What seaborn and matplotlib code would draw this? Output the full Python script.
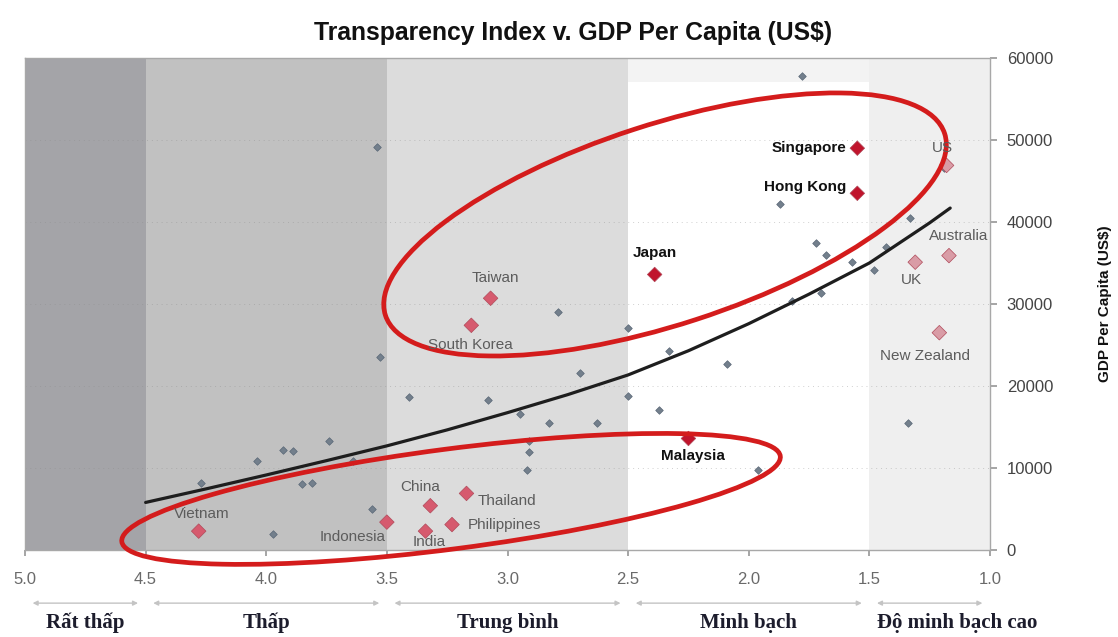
import numpy as np
import pandas as pd
import matplotlib
matplotlib.use("Agg")
import matplotlib.pyplot as plt
from matplotlib.patches import Ellipse
from matplotlib.transforms import IdentityTransform
import seaborn as sns

# ---- data -------------------------------------------------------------
# Highlighted economies: transparency index (5 = very low, 1 = very high) and GDP per capita (US$)
hl_names = ["Singapore", "Hong Kong", "Japan", "Malaysia", "Taiwan", "South Korea",
            "China", "Thailand", "Philippines", "India", "Indonesia", "Vietnam",
            "US", "UK", "Australia", "New Zealand"]
hl_index = [1.55, 1.55, 2.39, 2.25, 3.07, 3.15, 3.32, 3.17, 3.23, 3.34, 3.50, 4.28,
            1.18, 1.31, 1.17, 1.21]
hl_gdp = [49000, 43500, 33600, 13600, 30700, 27400, 5400, 6900, 3100, 2300, 3400, 2300,
          46900, 35100, 35900, 26500]
hl_group = ["strong", "strong", "strong", "strong", "asia", "asia", "asia", "asia",
            "asia", "asia", "asia", "asia", "west", "west", "west", "west"]

# Remaining economies in the sample
other_index = [1.78, 3.54, 1.87, 1.72, 1.68, 1.57, 1.48, 1.43, 1.33, 1.19, 2.09, 2.33,
               2.50, 2.79, 2.70, 3.53, 3.41, 3.08, 2.95, 2.83, 2.63, 2.50, 2.37, 2.91,
               2.91, 2.92, 1.96, 3.74, 3.93, 3.89, 4.04, 3.64, 4.27, 3.85, 3.81, 3.97,
               3.56, 1.34, 1.70, 1.82]
other_gdp = [57800, 49100, 42200, 37400, 36000, 35100, 34100, 36900, 40500, 46600, 22700,
             24300, 27100, 29000, 21600, 23500, 18600, 18300, 16600, 15500, 15500, 18800,
             17100, 13300, 11900, 9800, 9700, 13300, 12200, 12100, 10800, 10900, 8200,
             8000, 8200, 2000, 5000, 15500, 31400, 30400]

# Trend line sampled along the index
trend_index = [4.5, 4.25, 4.0, 3.75, 3.5, 3.25, 3.0, 2.75, 2.5, 2.25, 2.0, 1.75, 1.5,
               1.25, 1.165]
trend_gdp = [5800, 7450, 9150, 10900, 12700, 14650, 16750, 18950, 21350, 24300, 27600,
             31200, 35000, 39900, 41700]

# Transparency bands
band_edges = [5.0, 4.5, 3.5, 2.5, 1.5, 1.0]
band_names = ["Rất thấp", "Thấp", "Trung bình", "Minh bạch", "Độ minh bạch cao"]
band_colors = ["#a4a4a8", "#c1c1c1", "#dcdcdc", "#ffffff", "#efefef"]

x_ticks = [5.0, 4.5, 4.0, 3.5, 3.0, 2.5, 2.0, 1.5, 1.0]
y_ticks = [0, 10000, 20000, 30000, 40000, 50000, 60000]

# ---- style ------------------------------------------------------------
sns.set_theme(style="white")
plt.rcParams["font.family"] = ["Liberation Sans", "DejaVu Sans"]

fig = plt.figure(figsize=(11.18, 6.37), dpi=100)
ax = fig.add_axes([25 / 1118, 87 / 637, 965 / 1118, 492 / 637])
ax.set_facecolor("#f3f3f3")

ax.set_xlim(5.0, 1.0)
ax.set_ylim(0, 60000)

for (x0, x1), c in zip(zip(band_edges[:-1], band_edges[1:]), band_colors):
    top = 0.951 if c == "#ffffff" else 1.0
    ax.axvspan(x0, x1, ymin=0, ymax=top, color=c, lw=0, zorder=0)

ax.grid(axis="y", ls=(0, (1, 4)), color="#8a8a8a", lw=0.7, alpha=0.4, zorder=0.5)
ax.set_axisbelow(True)

# ---- marks ------------------------------------------------------------
others = pd.DataFrame({"index": other_index, "gdp": other_gdp})
sns.scatterplot(data=others, x="index", y="gdp", marker="D", s=15,
                color="#737f8c", edgecolor="#5a6877", linewidth=0.5, ax=ax, zorder=3)

trend = pd.DataFrame({"index": trend_index, "gdp": trend_gdp})
sns.lineplot(data=trend, x="index", y="gdp", color="#1e1e1e", lw=2.3, ax=ax,
             zorder=4, sort=False)

hl = pd.DataFrame({"name": hl_names, "index": hl_index, "gdp": hl_gdp, "group": hl_group})
palette = {"strong": "#c0142c", "asia": "#d65a6e", "west": "#d99ca6"}
sns.scatterplot(data=hl, x="index", y="gdp", hue="group", palette=palette, marker="D",
                s=55, edgecolor="#b04a5a", linewidth=0.5, legend=False, ax=ax, zorder=5)

# Label placement (pixel offsets, alignment)
label_pos = {
    "Singapore": (-11, 0, "right"), "Hong Kong": (-11, 6, "right"),
    "Japan": (0, 21, "center"), "Malaysia": (4, -18, "center"),
    "Taiwan": (5, 20, "center"), "South Korea": (-1, -20, "center"),
    "China": (-10, 19, "center"), "Thailand": (11, -8, "left"),
    "Philippines": (16, 0, "left"), "India": (4, -11, "center"),
    "Indonesia": (-34, -15, "center"), "Vietnam": (3, 17, "center"),
    "US": (-4, 17, "center"), "UK": (-4, -18, "center"),
    "Australia": (10, 20, "center"), "New Zealand": (-14, -23, "center"),
}
for name, xi, yi, grp in zip(hl_names, hl_index, hl_gdp, hl_group):
    dx, dy, ha = label_pos[name]
    if grp == "strong":
        kw = dict(color="#111111", fontweight="bold", fontsize=11)
    else:
        kw = dict(color="#5c5c5c", fontsize=11)
    ax.annotate(name, (xi, yi), xytext=(dx, dy), textcoords="offset pixels",
                ha=ha, va="center", zorder=7, annotation_clip=False, **kw)

# Circled groups
fig.canvas.draw()
for cx, cy, a, b, ang in [(2.347, 39700, 294, 100, 18), (3.234, 6230, 332, 50, 7.4)]:
    px, py = ax.transData.transform((cx, cy))
    ax.add_patch(Ellipse((px, py), 2 * a, 2 * b, angle=ang, transform=IdentityTransform(),
                         fill=False, ec="#d41c1c", lw=3.4, zorder=6, clip_on=False))

# ---- axes -------------------------------------------------------------
ax.yaxis.tick_right()
ax.yaxis.set_label_position("right")
ax.set_yticks(y_ticks)
ax.set_yticklabels([str(v) for v in y_ticks])
ax.set_xticks(x_ticks)
ax.set_xticklabels([f"{v:.1f}" for v in x_ticks])
ax.tick_params(axis="y", right=True, length=5, color="#9a9a9a", pad=7,
               labelsize=12, labelcolor="#444444")
ax.tick_params(axis="x", bottom=True, length=4, color="#9a9a9a", pad=12,
               labelsize=12, labelcolor="#6a6a6a")
ax.set_xlabel("")
ax.set_ylabel("GDP Per Capita (US$)", fontsize=11, fontweight="bold", color="#111111")
ax.yaxis.set_label_coords(1.112, 0.5)
for side in ["top", "bottom", "left", "right"]:
    ax.spines[side].set_visible(True)
    ax.spines[side].set_color("#a8a8a8")
    ax.spines[side].set_linewidth(1.0)

# Band arrows and names beneath the axis
xt = ax.get_xaxis_transform()
for i, (x0, x1, name) in enumerate(zip(band_edges[:-1], band_edges[1:], band_names)):
    ax.annotate("", xy=(x1 + 0.02, -0.108), xytext=(x0 - 0.02, -0.108), xycoords=xt,
                textcoords=xt, arrowprops=dict(arrowstyle="<|-|>", color="#c4c4c4",
                                               lw=1.0, mutation_scale=7))
    last = i == len(band_names) - 1
    ax.text(x0 - 0.03 if last else (x0 + x1) / 2, -0.148, name, transform=xt,
            ha="left" if last else "center", va="center",
            fontsize=15, fontweight="bold", color="#1c1c2c",
            family=["Liberation Serif", "DejaVu Serif"])

fig.text(573 / 1118, 1 - 33 / 637, "Transparency Index v. GDP Per Capita (US$)",
         ha="center", va="center", fontsize=17.8, fontweight="bold", color="#111111",
         family=["Liberation Sans", "DejaVu Sans"])

fig.savefig("out.png", dpi=100)
